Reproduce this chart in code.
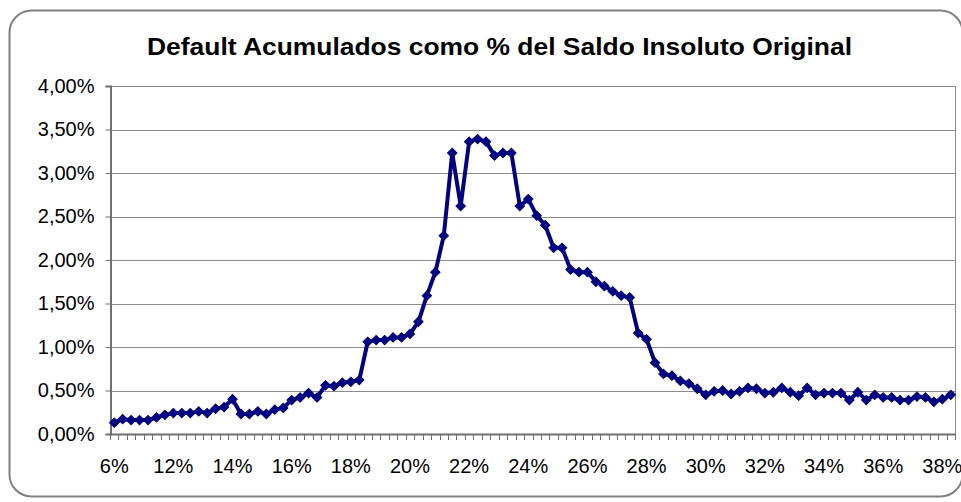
<!DOCTYPE html>
<html>
<head>
<meta charset="utf-8">
<script src="https://cdn.jsdelivr.net/npm/d3@7"></script>
<style>
  body { margin: 0; background: #fff; }
  svg { display: block; font-family: "Liberation Sans", Arial, sans-serif; }
</style>
</head>
<body>
<div id="chart"></div>
<script>
"use strict";

// chart data (values in %)
var title = "Default Acumulados como % del Saldo Insoluto Original";

var defaults = [
  0.13, 0.17, 0.16, 0.16, 0.16, 0.19, 0.22, 0.24, 0.24, 0.24,
  0.26, 0.24, 0.29, 0.31, 0.40, 0.23, 0.23, 0.26, 0.23, 0.28,
  0.30, 0.39, 0.42, 0.47, 0.42, 0.56, 0.55, 0.59, 0.60, 0.62,
  1.06, 1.08, 1.08, 1.11, 1.11, 1.15, 1.29, 1.59, 1.86, 2.28,
  3.23, 2.62, 3.36, 3.39, 3.36, 3.20, 3.23, 3.23, 2.62, 2.70,
  2.51, 2.40, 2.14, 2.14, 1.89, 1.86, 1.86, 1.75, 1.70, 1.64,
  1.59, 1.57, 1.16, 1.09, 0.82, 0.69, 0.67, 0.61, 0.58, 0.52,
  0.45, 0.49, 0.50, 0.46, 0.49, 0.53, 0.52, 0.47, 0.48, 0.53,
  0.48, 0.44, 0.53, 0.45, 0.47, 0.47, 0.47, 0.39, 0.48, 0.39,
  0.45, 0.42, 0.42, 0.39, 0.39, 0.43, 0.42, 0.37, 0.40, 0.45
];

// category labels shown every 7th category
var xTickLabels = ["6%", "12%", "14%", "16%", "18%", "20%", "22%", "24%",
  "26%", "28%", "30%", "32%", "34%", "36%", "38%"];
var labelStep = 7;

var yTicks = [0, 0.5, 1, 1.5, 2, 2.5, 3, 3.5, 4];

var width = 961,
  height = 502;

var plot = { left: 110, right: 955, top: 86, bottom: 434 };

var svg = d3
  .select("#chart")
  .append("svg")
  .attr("width", width)
  .attr("height", height);

// outer chart frame
svg
  .append("rect")
  .attr("x", 9.5)
  .attr("y", 10.5)
  .attr("width", 953)
  .attr("height", 486)
  .attr("rx", 22)
  .attr("fill", "#fff")
  .attr("stroke", "#808080")
  .attr("stroke-width", 2);

svg
  .append("text")
  .attr("x", 499.5)
  .attr("y", 55)
  .attr("text-anchor", "middle")
  .attr("font-size", 24)
  .attr("font-weight", "bold")
  .attr("textLength", 705)
  .attr("lengthAdjust", "spacingAndGlyphs")
  .attr("fill", "#000")
  .text(title);

var x = d3
  .scaleBand()
  .domain(d3.range(defaults.length))
  .range([plot.left, plot.right]);

var y = d3
  .scaleLinear()
  .domain([0, 4])
  .range([plot.bottom, plot.top]);

// gridlines
svg
  .selectAll("line.grid")
  .data(yTicks.slice(1))
  .enter()
  .append("line")
  .attr("class", "grid")
  .attr("x1", plot.left)
  .attr("x2", plot.right)
  .attr("y1", function(d) { return Math.round(y(d)) + 0.5; })
  .attr("y2", function(d) { return Math.round(y(d)) + 0.5; })
  .attr("stroke", "#8c8c8c")
  .attr("stroke-width", 1);

// right border of plot area
svg
  .append("line")
  .attr("x1", plot.right + 0.5)
  .attr("x2", plot.right + 0.5)
  .attr("y1", plot.top)
  .attr("y2", plot.bottom)
  .attr("stroke", "#8c8c8c");

// y axis
var yAxis = d3
  .axisLeft(y)
  .tickValues(yTicks)
  .tickSize(5)
  .tickPadding(11)
  .tickFormat(function(d) { return d.toFixed(2).replace(".", ",") + "%"; });

var gy = svg
  .append("g")
  .attr("transform", "translate(" + (plot.left + 0.5) + ",0)")
  .call(yAxis);
gy.select(".domain").attr("stroke", "#707070").attr("stroke-width", 2);
gy.selectAll(".tick line").attr("stroke", "#707070");
gy.selectAll("text").attr("font-size", 20).attr("fill", "#000").attr("font-family", null);

// x axis: ticks between categories, labels every 7th
var xEdges = d3.range(defaults.length + 1).map(function(i) {
  return plot.left + i * x.step();
});

svg
  .append("line")
  .attr("x1", plot.left)
  .attr("x2", plot.right + 1)
  .attr("y1", plot.bottom + 0.5)
  .attr("y2", plot.bottom + 0.5)
  .attr("stroke", "#707070")
  .attr("stroke-width", 2);

svg
  .selectAll("line.xtick")
  .data(xEdges)
  .enter()
  .append("line")
  .attr("class", "xtick")
  .attr("x1", function(d) { return Math.round(d) + 0.5; })
  .attr("x2", function(d) { return Math.round(d) + 0.5; })
  .attr("y1", plot.bottom)
  .attr("y2", plot.bottom + 6)
  .attr("stroke", "#707070");

svg
  .selectAll("text.xlabel")
  .data(xTickLabels)
  .enter()
  .append("text")
  .attr("class", "xlabel")
  .attr("x", function(d, i) { return x(i * labelStep) + x.bandwidth() / 2; })
  .attr("y", 473)
  .attr("text-anchor", "middle")
  .attr("font-size", 20)
  .attr("fill", "#000")
  .text(function(d) { return d; });

// series line
var line = d3
  .line()
  .x(function(d, i) { return x(i) + x.bandwidth() / 2; })
  .y(function(d) { return y(d); });

svg
  .append("path")
  .datum(defaults)
  .attr("fill", "none")
  .attr("stroke", "#000080")
  .attr("stroke-width", 4)
  .attr("stroke-linejoin", "round")
  .attr("d", line);

// diamond markers
var diamond = d3.symbol().type(d3.symbolSquare).size(44);

svg
  .selectAll("path.pt")
  .data(defaults)
  .enter()
  .append("path")
  .attr("class", "pt")
  .attr("d", diamond)
  .attr("fill", "#000080")
  .attr("stroke", "#000080")
  .attr("stroke-width", 1)
  .attr("transform", function(d, i) {
    return "translate(" + (x(i) + x.bandwidth() / 2) + "," + y(d) + ") rotate(45)";
  });
</script>
</body>
</html>
